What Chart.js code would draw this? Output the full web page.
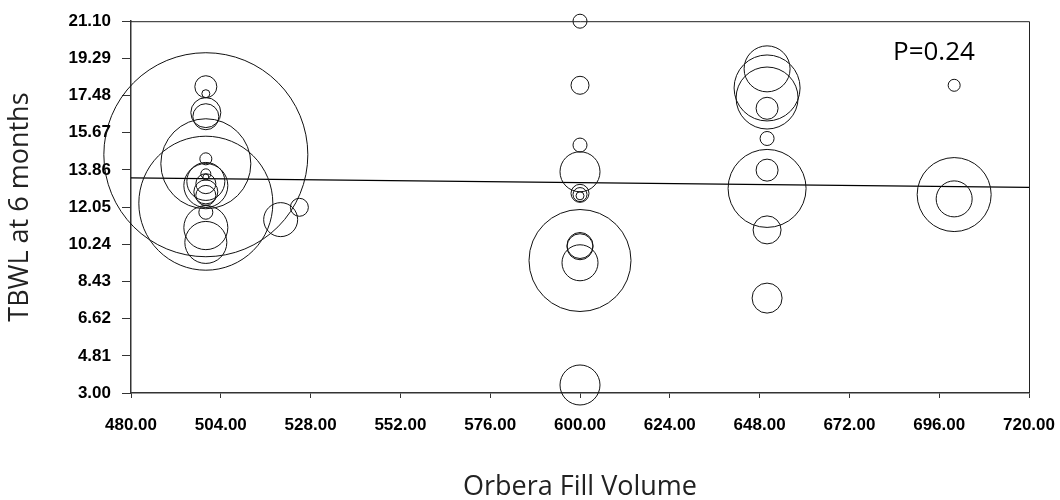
<!DOCTYPE html>
<html>
<head>
<meta charset="utf-8">
<script src="https://cdn.jsdelivr.net/npm/chart.js@4.4.1/dist/chart.umd.min.js"></script>
<style>
  html, body { margin: 0; padding: 0; background: #fff; }
  #wrap { width: 1060px; height: 500px; }
</style>
</head>
<body>
<div id="wrap"><canvas id="bubbleChart" width="1060" height="500"></canvas></div>
<script>
// data
const fillVolume = [500, 500, 500, 500, 500, 500, 500, 500, 500, 500, 500, 500, 500, 500, 500, 500, 500, 500, 520, 525,
    600, 600, 600, 600, 600, 600, 600, 600, 600, 600, 600, 600,
    650, 650, 650, 650, 650, 650, 650, 650, 650,
    700, 700, 700];
const tbwl = [14.6, 12.24, 14.16, 11.05, 10.33, 17.91, 17.57, 16.65, 16.45, 14.4, 13.1, 13.3, 13.67, 13.51, 13.19, 12.79, 12.62, 11.8, 11.44, 12.04,
    21.1, 17.98, 15.07, 13.77, 12.72, 12.66, 12.6, 9.45, 10.12, 10.18, 9.34, 3.39,
    18.78, 17.85, 17.36, 16.86, 15.39, 12.96, 13.85, 10.94, 7.62,
    17.98, 12.66, 12.45];
const bubbleSize = [102, 67, 45, 22, 21, 11, 4, 15, 13, 6, 22, 19, 5, 3, 10, 12, 10, 7, 17, 9,
    7, 9, 7, 20, 9, 7, 4, 51, 13, 13, 18, 20,
    23, 33, 31, 11, 7, 39, 11, 14, 15,
    6, 37, 18];

// fitted line end points
const fitX = [480, 720];
const fitY = [13.47, 13.01];

const yTicks = [3.00, 4.81, 6.62, 8.43, 10.24, 12.05, 13.86, 15.67, 17.48, 19.29, 21.10];
const xTicks = [480, 504, 528, 552, 576, 600, 624, 648, 672, 696, 720];
const pLabel = "P=0.24";

let bubbles = fillVolume.map((v, i) => ({ x: v, y: tbwl[i], r: bubbleSize[i] }));
let fitLine = fitX.map((v, i) => ({ x: v, y: fitY[i] }));

// box round the plot + P value text
const frame = {
    id: "frame",
    afterDatasetsDraw(chart) {
        const { ctx, chartArea: a, scales } = chart;
        ctx.save();
        ctx.strokeStyle = "#222";
        ctx.lineWidth = 1;
        ctx.beginPath();
        ctx.moveTo(a.left, a.top + 0.5);
        ctx.lineTo(a.right + 0.5, a.top + 0.5);
        ctx.lineTo(a.right + 0.5, a.bottom);
        ctx.stroke();
        ctx.fillStyle = "#000";
        ctx.font = "26px 'Open Sans'";
        ctx.textAlign = "center";
        ctx.textBaseline = "middle";
        ctx.fillText(pLabel, scales.x.getPixelForValue(694.6), scales.y.getPixelForValue(19.55));
        ctx.restore();
    }
};

const tickFont = { family: "'Liberation Sans', Arial, sans-serif", size: 17, weight: "bold" };
const titleFont = { family: "'Open Sans', sans-serif", size: 27 };

new Chart(document.getElementById("bubbleChart"), {
    type: "bubble",
    data: {
        datasets: [{
            type: "bubble",
            data: bubbles,
            backgroundColor: "rgba(0,0,0,0)",
            borderColor: "#111",
            borderWidth: 1,
            hoverBorderWidth: 1,
            clip: false
        }, {
            type: "line",
            data: fitLine,
            borderColor: "#000",
            borderWidth: 1.2,
            pointRadius: 0,
            fill: false
        }]
    },
    options: {
        responsive: false,
        animation: false,
        devicePixelRatio: 1,
        layout: { autoPadding: false, padding: { top: 20, right: 31, left: 0, bottom: 0 } },
        plugins: { legend: { display: false }, tooltip: { enabled: false } },
        scales: {
            x: {
                type: "linear",
                min: 480,
                max: 720,
                afterBuildTicks: s => { s.ticks = xTicks.map(v => ({ value: v })); },
                afterFit: s => { s.height = 107; s.paddingLeft = 0; s.paddingRight = 0; },
                ticks: {
                    autoSkip: false,
                    maxRotation: 0,
                    color: "#000",
                    font: tickFont,
                    padding: 17,
                    callback: v => v.toFixed(2)
                },
                grid: { drawOnChartArea: false, drawTicks: true, tickLength: 5, color: "#333" },
                border: { color: "#333", width: 1.5 },
                title: {
                    display: true,
                    text: "Orbera Fill Volume",
                    color: "#222",
                    font: titleFont,
                    padding: { top: 0, bottom: -4 }
                }
            },
            y: {
                type: "linear",
                min: 3,
                max: 21.1,
                afterBuildTicks: s => { s.ticks = yTicks.map(v => ({ value: v })); },
                afterFit: s => { s.width = 131; },
                ticks: {
                    autoSkip: false,
                    color: "#000",
                    font: tickFont,
                    padding: 11,
                    callback: v => v.toFixed(2)
                },
                grid: { drawOnChartArea: false, drawTicks: true, tickLength: 9, color: "#333" },
                border: { color: "#333", width: 1.5 },
                title: {
                    display: true,
                    text: "TBWL at 6 months",
                    color: "#222",
                    font: titleFont,
                    padding: { top: 4, bottom: 0 }
                }
            }
        }
    },
    plugins: [frame]
});
</script>
</body>
</html>
